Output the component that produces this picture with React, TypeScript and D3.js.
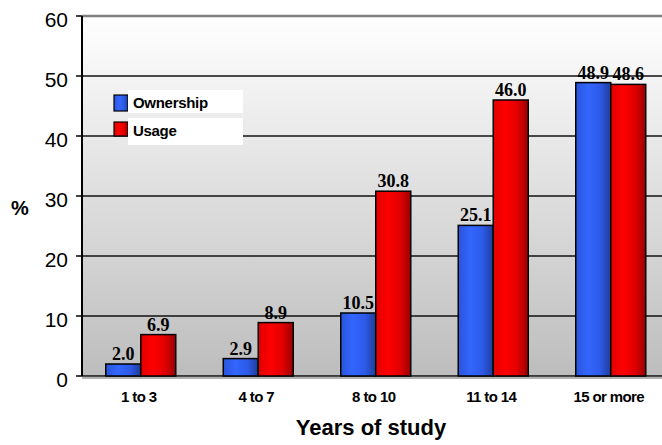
import React from "react";
import * as d3 from "d3";

const categories = ["1 to 3", "4 to 7", "8 to 10", "11 to 14", "15 or more"];
const ownership = [2.0, 2.9, 10.5, 25.1, 48.9];
const usage = [6.9, 8.9, 30.8, 46.0, 48.6];
const yTicks = [0, 10, 20, 30, 40, 50, 60];
const seriesNames = ["Ownership", "Usage"];

export default function App() {
  const W = 662, H = 445;
  const left = 82, top = 16, bottom = 376, right = 669.5;
  const x = d3.scaleBand<string>().domain(categories).range([left, right]).padding(0);
  const y = d3.scaleLinear().domain([0, 60]).range([bottom, top]);
  const bw = 35;
  const series = [
    { name: seriesNames[0], values: ownership, fill: "url(#gBlue)", off: -bw },
    { name: seriesNames[1], values: usage, fill: "url(#gRed)", off: 0 },
  ];
  return (
    <svg width={W} height={H} style={{ position: "absolute", left: 0, top: 0 }}>
      <defs>
        <linearGradient id="bg" x1="0" y1="0" x2="0" y2="1">
          <stop offset="0" stopColor="#ffffff" />
          <stop offset="1" stopColor="#bdbdbd" />
        </linearGradient>
        <linearGradient id="gBlue" x1="0" y1="0" x2="1" y2="0">
          <stop offset="0" stopColor="#2a55d8" />
          <stop offset="0.35" stopColor="#3366ff" />
          <stop offset="0.7" stopColor="#2d5ae6" />
          <stop offset="1" stopColor="#1f3c99" />
        </linearGradient>
        <linearGradient id="gRed" x1="0" y1="0" x2="1" y2="0">
          <stop offset="0" stopColor="#e00000" />
          <stop offset="0.35" stopColor="#ff0000" />
          <stop offset="0.7" stopColor="#e00000" />
          <stop offset="1" stopColor="#990000" />
        </linearGradient>
      </defs>
      <rect x={left} y={top} width={W - left} height={bottom - top} fill="url(#bg)" />
      <line x1={left} x2={W} y1={top} y2={top} stroke="#808080" strokeWidth={2.5} />
      {yTicks.filter(t => t > 0 && t < 60).map(t => (
        <line key={t} x1={left} x2={W} y1={y(t)} y2={y(t)} stroke="#111" strokeWidth={1.5} />
      ))}
      <line x1={left} x2={W} y1={bottom} y2={bottom} stroke="#111" strokeWidth={1.5} />
      <line x1={left} x2={W} y1={bottom + 2} y2={bottom + 2} stroke="#999" strokeWidth={1.5} />
      {yTicks.map(t => (
        <g key={t}>
          <line x1={left - 6} x2={left} y1={y(t)} y2={y(t)} stroke="#000" strokeWidth={1.5} />
          <text x={68} y={y(t) + 11} textAnchor="end" fontFamily="Liberation Sans, Arial" fontSize={21} fill="#000">{t}</text>
        </g>
      ))}
      <line x1={left} x2={left} y1={top} y2={bottom} stroke="#000" strokeWidth={2} />
      {series.map(s => s.values.map((v, i) => {
        const cx = (x(categories[i]) as number) + x.bandwidth() / 2;
        const bx = cx + s.off;
        return (
          <g key={s.name + i}>
            <rect x={bx} y={y(v)} width={bw} height={bottom - y(v)} fill={s.fill} stroke="#000" strokeWidth={1.5} />
            <text x={bx + bw / 2} y={y(v) - 4} textAnchor="middle" fontFamily="Liberation Serif, Times New Roman" fontWeight="bold" fontSize={18} fill="#000">{v.toFixed(1)}</text>
          </g>
        );
      }))}
      {categories.map(c => (
        <text key={c} x={(x(c) as number) + x.bandwidth() / 2 - 2} y={402} textAnchor="middle" fontFamily="Liberation Sans, Arial" fontWeight="bold" fontSize={15} letterSpacing={-0.6} fill="#000">{c}</text>
      ))}
      <text x={371} y={435} textAnchor="middle" fontFamily="Liberation Sans, Arial" fontWeight="bold" fontSize={22} fill="#000">Years of study</text>
      <text x={20} y={215} textAnchor="middle" fontFamily="Liberation Sans, Arial" fontWeight="bold" fontSize={20} fill="#000">%</text>
      {/* legend */}
      <rect x={114} y={95} width={14} height={16} fill="url(#gBlue)" stroke="#000" strokeWidth={1.2} />
      <rect x={114} y={122} width={14} height={14} fill="url(#gRed)" stroke="#000" strokeWidth={1.2} />
      <rect x={128} y={90} width={115} height={23} fill="#fff" />
      <rect x={128} y={118} width={115} height={27} fill="#fff" />
      <text x={133} y={108} fontFamily="Liberation Sans, Arial" fontWeight="bold" fontSize={15} letterSpacing={-0.3} fill="#000">{seriesNames[0]}</text>
      <text x={133} y={136} fontFamily="Liberation Sans, Arial" fontWeight="bold" fontSize={15} letterSpacing={-0.3} fill="#000">{seriesNames[1]}</text>
    </svg>
  );
}
